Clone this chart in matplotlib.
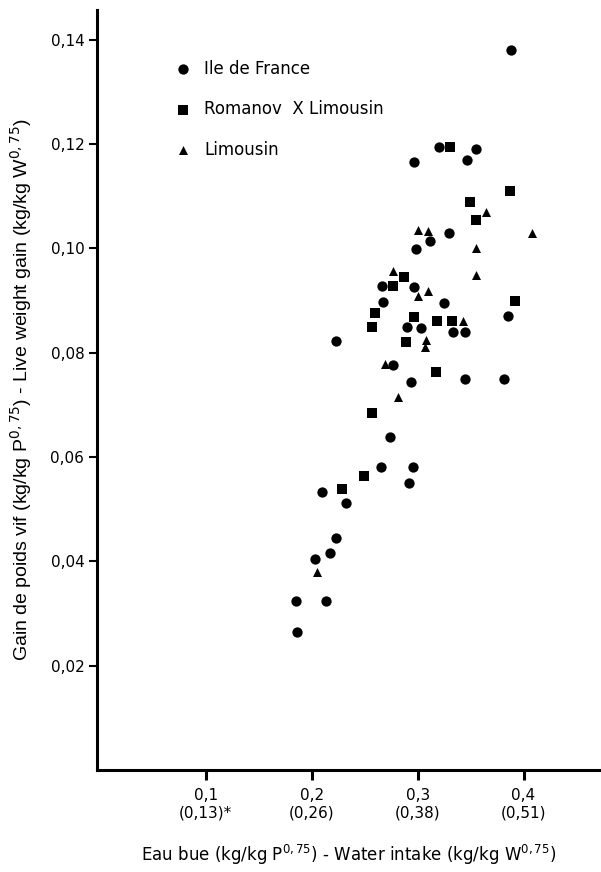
import matplotlib
matplotlib.use("Agg")
import matplotlib.pyplot as plt

# Ile de France (circles)
idf_x = [0.388, 0.320, 0.297, 0.347, 0.355, 0.330, 0.312, 0.298, 0.266, 0.297,
         0.267, 0.325, 0.290, 0.303, 0.333, 0.345, 0.223, 0.277, 0.294, 0.345,
         0.382, 0.385, 0.274, 0.265, 0.292, 0.296, 0.210, 0.232, 0.223, 0.217,
         0.203, 0.185, 0.213, 0.186]
idf_y = [0.138, 0.1195, 0.1166, 0.117, 0.119, 0.103, 0.1015, 0.0999, 0.0928, 0.0926,
         0.0898, 0.0896, 0.0850, 0.0848, 0.084, 0.084, 0.0823, 0.0777, 0.0744, 0.075,
         0.075, 0.087, 0.0639, 0.058, 0.055, 0.058, 0.0533, 0.0512, 0.0445, 0.0416,
         0.0405, 0.0324, 0.0324, 0.0265]

# Romanov X Limousin (squares)
rxl_x = [0.331, 0.349, 0.387, 0.355, 0.392, 0.287, 0.277, 0.260, 0.297, 0.318,
         0.332, 0.257, 0.289, 0.317, 0.257, 0.249, 0.229]
rxl_y = [0.1195, 0.109, 0.111, 0.1055, 0.090, 0.0946, 0.0928, 0.0877, 0.0869, 0.0860,
         0.0860, 0.0850, 0.0820, 0.0763, 0.0685, 0.0564, 0.0539]

# Limousin (triangles)
lim_x = [0.300, 0.310, 0.365, 0.355, 0.408, 0.355, 0.277, 0.310, 0.300, 0.343,
         0.308, 0.307, 0.269, 0.281, 0.205]
lim_y = [0.1036, 0.1034, 0.107, 0.100, 0.103, 0.095, 0.0957, 0.0919, 0.0908, 0.086,
         0.0825, 0.0811, 0.0779, 0.0715, 0.038]

xticks = [0.1, 0.2, 0.3, 0.4]
xticklabels = ["0,1\n(0,13)*", "0,2\n(0,26)", "0,3\n(0,38)", "0,4\n(0,51)"]
yticks = [0.02, 0.04, 0.06, 0.08, 0.10, 0.12, 0.14]
yticklabels = ["0,02", "0,04", "0,06", "0,08", "0,10", "0,12", "0,14"]

fig = plt.figure(figsize=(6.01, 8.72), dpi=100)
ax = fig.add_axes([0.161, 0.117, 0.837, 0.872])

ax.scatter(idf_x, idf_y, marker="o", s=55, c="black", linewidths=0, label="Ile de France")
ax.scatter(rxl_x, rxl_y, marker="s", s=42, c="black", linewidths=0, label="Romanov  X Limousin")
ax.scatter(lim_x, lim_y, marker="^", s=42, c="black", linewidths=0, label="Limousin")

ax.set_xlim(-0.003, 0.472)
ax.set_ylim(0, 0.1458)

ax.spines["top"].set_visible(False)
ax.spines["right"].set_visible(False)
ax.spines["left"].set_linewidth(2.2)
ax.spines["bottom"].set_linewidth(2.2)

ax.set_xticks(xticks)
ax.set_xticklabels(xticklabels, fontsize=11, linespacing=1.2)
ax.set_yticks(yticks)
ax.set_yticklabels(yticklabels, fontsize=11)
ax.tick_params(axis="x", direction="out", length=7, width=2.2, pad=6)
ax.tick_params(axis="y", direction="out", length=6, width=1.5, pad=3)

ax.set_xlabel("Eau bue (kg/kg P$^{0,75}$) - Water intake (kg/kg W$^{0,75}$)",
              fontsize=12, labelpad=16)
ax.set_ylabel("Gain de poids vif (kg/kg P$^{0,75}$) - Live weight gain (kg/kg W$^{0,75}$)",
              fontsize=14, family="Liberation Sans", labelpad=12)

ax.legend(loc="upper left", bbox_to_anchor=(0.108, 0.954), frameon=False,
          fontsize=12, labelspacing=1.35, handletextpad=0.3, scatterpoints=1)

fig.savefig("out.png", dpi=100)
